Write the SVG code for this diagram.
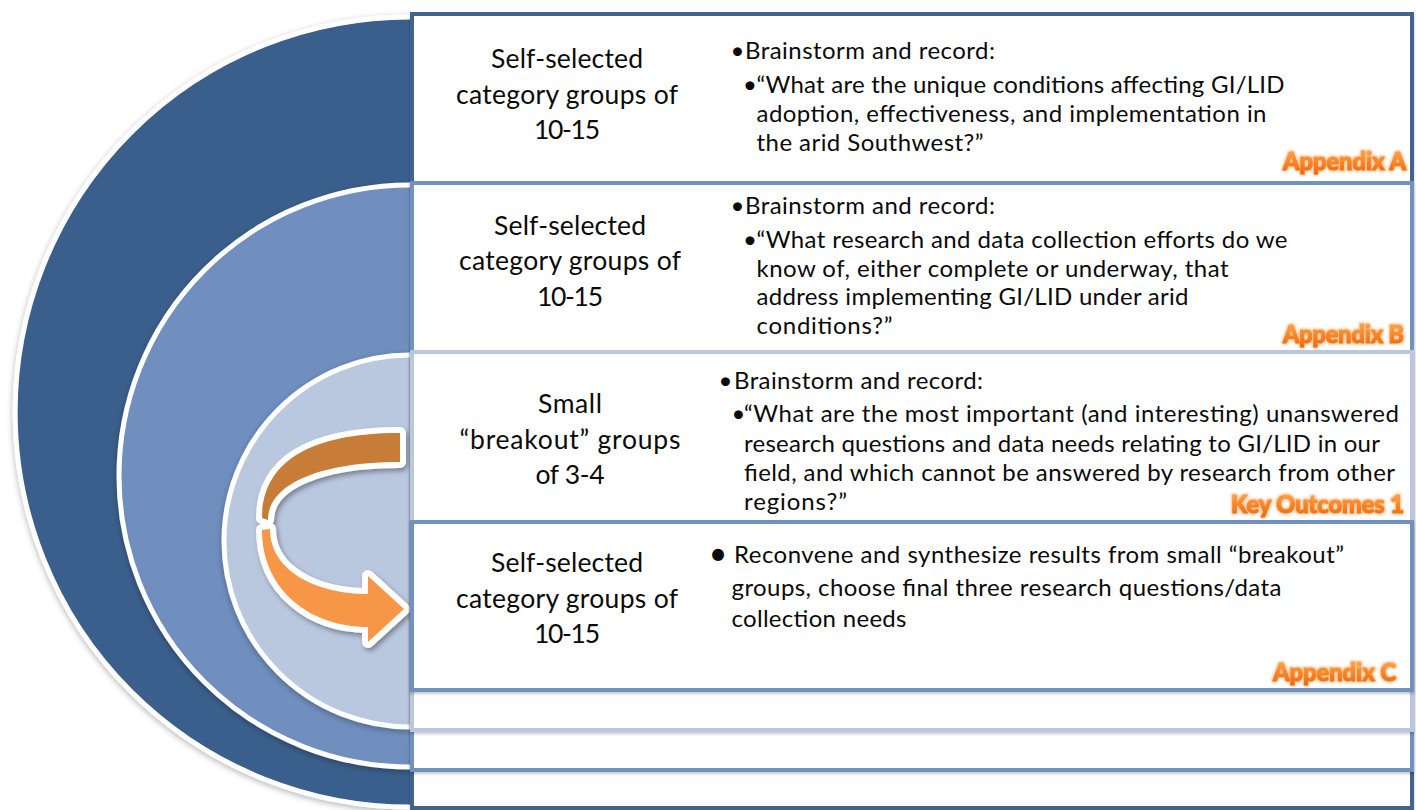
<svg xmlns="http://www.w3.org/2000/svg" width="1416" height="810" viewBox="0 0 1416 810">
  <defs>
    <style>
      .txt { font-family: Lato, "Open Sans", "Liberation Sans", sans-serif; font-size: 24px; fill: #0b0b0b; }
      .lbl { font-family: Lato, "Open Sans", "Liberation Sans", sans-serif; font-size: 26.5px; fill: #0b0b0b; text-anchor: middle; }
      .bul { font-family: Lato, "Open Sans", "Liberation Sans", sans-serif; font-size: 24px; fill: #0b0b0b; text-anchor: middle; }
      .tag { font-family: Lato, "Open Sans", "Liberation Sans", sans-serif; font-weight: 900; font-size: 25px; fill: url(#tagFill); stroke: url(#tagFill); stroke-width: 1.1; stroke-linejoin: round; text-anchor: end; filter: url(#tagGlow); }
      .box { fill: #ffffff; stroke-width: 4; filter: url(#boxShadow); }
      .ring { stroke: #ffffff; stroke-width: 5; filter: url(#ringShadow); }
      .band { stroke: #ffffff; stroke-width: 12; stroke-linejoin: round; paint-order: stroke fill; }
    </style>
    <linearGradient id="tagFill" x1="0" y1="0" x2="0" y2="1">
      <stop offset="0" stop-color="#FFB25F"/>
      <stop offset="0.5" stop-color="#FB8A2B"/>
      <stop offset="1" stop-color="#EC660A"/>
    </linearGradient>
    <filter id="tagGlow" x="-10%" y="-30%" width="120%" height="160%">
      <feMorphology in="SourceAlpha" operator="dilate" radius="1" result="grow"/>
      <feGaussianBlur in="grow" stdDeviation="1.2" result="soft"/>
      <feFlood flood-color="#F9B070" flood-opacity="0.75"/>
      <feComposite in2="soft" operator="in" result="halo"/>
      <feMerge>
        <feMergeNode in="halo"/>
        <feMergeNode in="SourceGraphic"/>
      </feMerge>
    </filter>
    <filter id="ringShadow" x="-10%" y="-10%" width="130%" height="125%">
      <feDropShadow dx="0" dy="2" stdDeviation="3" flood-color="#000" flood-opacity="0.3"/>
    </filter>
    <filter id="boxShadow" x="-2%" y="-5%" width="104%" height="115%">
      <feDropShadow dx="0" dy="2" stdDeviation="1.5" flood-color="#000" flood-opacity="0.22"/>
    </filter>
    <filter id="arrowShadow" x="-20%" y="-20%" width="140%" height="140%">
      <feDropShadow dx="2" dy="3" stdDeviation="2.5" flood-color="#000" flood-opacity="0.35"/>
    </filter>
  </defs>

  <!-- nested half discs, one per level -->
  <g id="ring-outer">
    <path class="ring" fill="#3B5E8C" d="M410,17 A395,395 0 0 0 410,807"/>
  </g>
  <g id="ring-middle">
    <path class="ring" fill="#6F8FBF" d="M410,185 A291,291 0 0 0 410,767"/>
  </g>
  <g id="ring-inner">
    <path class="ring" fill="#B9C7DF" d="M410,355 A186,186 0 0 0 410,727"/>
  </g>

  <!-- turning arrow from the breakout level to the reconvene level -->
  <g id="connectors" filter="url(#arrowShadow)">
    <path class="band" fill="#F79646" d="M262,530 C262,590 310,627 368,627 L368,642 L404,609 L368,576 L368,594 C318,594 270,572 270,529 Z"/>
    <path class="band" fill="#C77B38" d="M400,433 C305,433 262,465 262,518 L268,520 C268,484 320,462 400,462 Z"/>
  </g>

  <!-- level 1 -->
  <g id="level-1">
    <rect class="box" x="412" y="14" width="1000" height="794" stroke="#41648F"/>
    <text class="lbl" x="567" y="68" textLength="152">Self-selected</text>
    <text class="lbl" x="567" y="103.5" textLength="222">category groups of</text>
    <text class="lbl" x="567" y="139" textLength="66">10-15</text>
    <text class="bul" x="737.5" y="59">•</text>
    <text class="txt" x="745" y="59" textLength="250">Brainstorm and record:</text>
    <text class="bul" x="750" y="93">•</text>
    <text class="txt" x="756.5" y="93" textLength="528">“What are the unique conditions affecting GI/LID</text>
    <text class="txt" x="756.5" y="122" textLength="510">adoption, effectiveness, and implementation in</text>
    <text class="txt" x="756.5" y="150.5" textLength="227">the arid Southwest?”</text>
    <text class="tag" x="1406" y="170" textLength="123" lengthAdjust="spacingAndGlyphs">Appendix A</text>
  </g>

  <!-- level 2 -->
  <g id="level-2">
    <rect class="box" x="412" y="183" width="1000" height="587" stroke="#7191C1"/>
    <text class="lbl" x="570" y="235" textLength="152">Self-selected</text>
    <text class="lbl" x="570" y="270" textLength="222">category groups of</text>
    <text class="lbl" x="570" y="305.5" textLength="66">10-15</text>
    <text class="bul" x="737.5" y="214">•</text>
    <text class="txt" x="745" y="214" textLength="250">Brainstorm and record:</text>
    <text class="bul" x="750" y="248">•</text>
    <text class="txt" x="756.5" y="248" textLength="531">“What research and data collection efforts do we</text>
    <text class="txt" x="756.5" y="276.5" textLength="472">know of, either complete or underway, that</text>
    <text class="txt" x="756.5" y="305" textLength="432">address implementing GI/LID under arid</text>
    <text class="txt" x="756.5" y="334" textLength="136">conditions?”</text>
    <text class="tag" x="1404" y="343" textLength="121" lengthAdjust="spacingAndGlyphs">Appendix B</text>
  </g>

  <!-- level 3 -->
  <g id="level-3">
    <rect class="box" x="412" y="352" width="1000" height="378" stroke="#BAC7DF"/>
    <text class="lbl" x="570" y="413" textLength="64">Small</text>
    <text class="lbl" x="570" y="448.5" textLength="221">“breakout” groups</text>
    <text class="lbl" x="570" y="484" textLength="69">of 3-4</text>
    <text class="bul" x="725.5" y="389">•</text>
    <text class="txt" x="734" y="389" textLength="249">Brainstorm and record:</text>
    <text class="bul" x="738.5" y="422">•</text>
    <text class="txt" x="744" y="422" textLength="655">“What are the most important (and interesting) unanswered</text>
    <text class="txt" x="744" y="452" textLength="636">research questions and data needs relating to GI/LID in our</text>
    <text class="txt" x="744" y="481" textLength="651">field, and which cannot be answered by research from other</text>
    <text class="txt" x="744" y="510" textLength="103">regions?”</text>
    <text class="tag" x="1404" y="513" textLength="173" lengthAdjust="spacingAndGlyphs">Key Outcomes 1</text>
  </g>

  <!-- level 4 -->
  <g id="level-4">
    <rect class="box" x="412" y="522" width="1000" height="168" stroke="#7191C1"/>
    <text class="lbl" x="567" y="572" textLength="152">Self-selected</text>
    <text class="lbl" x="567" y="607.5" textLength="222">category groups of</text>
    <text class="lbl" x="567" y="643" textLength="66">10-15</text>
    <text class="bul" x="718" y="565" style="font-size:32px">•</text>
    <text class="txt" x="734" y="563" textLength="610">Reconvene and synthesize results from small “breakout”</text>
    <text class="txt" x="731.5" y="595.5" textLength="550">groups, choose final three research questions/data</text>
    <text class="txt" x="731.5" y="627" textLength="175">collection needs</text>
    <text class="tag" x="1396" y="681" textLength="123" lengthAdjust="spacingAndGlyphs">Appendix C</text>
  </g>
</svg>
